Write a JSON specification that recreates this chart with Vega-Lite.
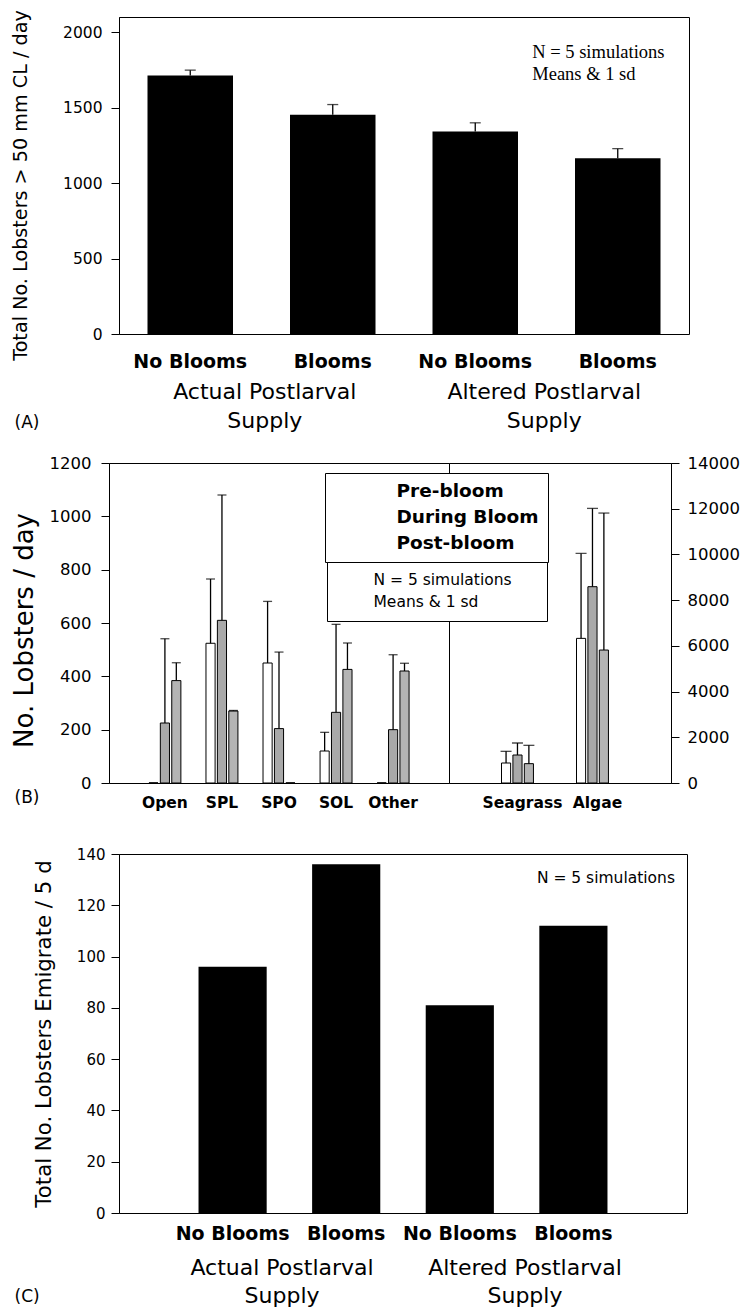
{
  "$schema": "https://vega.github.io/schema/vega-lite/v6.json",
  "background": "white",
  "padding": {"left": 10, "top": 9, "right": 5, "bottom": 5},
  "spacing": 22,
  "config": {
    "font": "DejaVu Sans",
    "view": {"stroke": "black", "strokeWidth": 1},
    "axis": {"domainColor": "black", "tickColor": "black", "labelColor": "black", "titleColor": "black", "grid": false, "labelFont": "DejaVu Sans", "titleFont": "DejaVu Sans", "titleFontWeight": "normal", "domainWidth": 1, "tickWidth": 1, "labelLimit": 400, "titleLimit": 600},
    "legend": {"labelColor": "black"}
  },
  "vconcat": [
    {
      "hconcat": [
        {"width": 10, "height": 10, "view": {"stroke": null}, "data": {"values": [{}]}, "mark": {"type": "point", "opacity": 0}, "encoding": {}},
        {
          "width": 570,
          "height": 317,
          "layer": [
            {
              "data": {"values": [
                {"key": "Actual|No Blooms", "value": 1713, "upper": 1748},
                {"key": "Actual|Blooms", "value": 1452, "upper": 1520},
                {"key": "Altered|No Blooms", "value": 1341, "upper": 1399},
                {"key": "Altered|Blooms", "value": 1165, "upper": 1228}
              ]},
              "layer": [
                {
                  "mark": {"type": "bar", "fill": "black"},
                  "encoding": {
                    "x": {"field": "key", "type": "nominal", "sort": null, "scale": {"paddingInner": 0.4, "paddingOuter": 0.2},
                      "axis": {"title": null, "labelExpr": "split(datum.label, '|')[1]", "labelAngle": 0, "labelFontWeight": "bold", "labelFontSize": 19, "labelPadding": 18, "ticks": false, "domain": false}},
                    "y": {"field": "value", "type": "quantitative", "scale": {"domain": [0, 2100], "nice": false},
                      "axis": {"title": "Total No. Lobsters > 50 mm CL / day", "titleFontSize": 19.2, "titleX": -98.5, "titleY": 168, "titleBaseline": "middle", "values": [0, 500, 1000, 1500, 2000], "format": "d", "tickSize": 8, "labelPadding": 9, "labelFontSize": 15.5}}
                  }
                },
                {
                  "mark": {"type": "rule", "color": "black", "strokeWidth": 1.3},
                  "encoding": {
                    "x": {"field": "key", "type": "nominal", "sort": null},
                    "y": {"field": "value", "type": "quantitative"},
                    "y2": {"field": "upper"}
                  }
                },
                {
                  "mark": {"type": "tick", "color": "black", "thickness": 1.3, "size": 11},
                  "encoding": {
                    "x": {"field": "key", "type": "nominal", "sort": null},
                    "y": {"field": "upper", "type": "quantitative"}
                  }
                },
                {
                  "data": {"values": [{"note": "N = 5 simulations\nMeans & 1 sd"}]},
                  "mark": {"type": "text", "font": "Liberation Serif", "fontSize": 18.5, "align": "left", "baseline": "middle", "lineBreak": "\n", "lineHeight": 22, "dx": 57, "color": "black"},
                  "encoding": {
                    "text": {"field": "note"},
                    "x": {"datum": "Altered|No Blooms", "type": "nominal"},
                    "y": {"datum": 1868, "type": "quantitative"}
                  }
                }
              ]
            },
            {
              "data": {"values": [{"supply": "Actual Postlarval|Supply"}, {"supply": "Altered Postlarval|Supply"}]},
              "mark": {"type": "text", "text": " "},
              "encoding": {
                "x": {"field": "supply", "type": "nominal", "sort": null, "scale": {"padding": 0.52},
                  "axis": {"orient": "bottom", "offset": 47, "domain": false, "ticks": false, "labelAngle": 0, "labelExpr": "split(datum.label, '|')", "labelFontSize": 22, "labelLineHeight": 29, "labelPadding": 0, "labelBaseline": "top", "title": "(A)", "titleX": -105, "titleY": 41, "titleAlign": "left", "titleBaseline": "middle", "titleFontSize": 17}}
              }
            }
          ],
          "resolve": {"scale": {"x": "independent"}, "axis": {"x": "independent"}}
        }
      ],
      "spacing": 0,
      "bounds": "flush"
    },
    {
      "spacing": 35,
      "vconcat": [
        {
          "hconcat": [
            {
              "width": 340,
              "height": 320,
              "data": {"values": [
                {"hab": "Open", "period": "Pre-bloom", "value": 0, "upper": 0},
                {"hab": "Open", "period": "During Bloom", "value": 225, "upper": 541},
                {"hab": "Open", "period": "Post-bloom", "value": 384, "upper": 451},
                {"hab": "SPL", "period": "Pre-bloom", "value": 524, "upper": 765},
                {"hab": "SPL", "period": "During Bloom", "value": 610, "upper": 1080},
                {"hab": "SPL", "period": "Post-bloom", "value": 270, "upper": 272},
                {"hab": "SPO", "period": "Pre-bloom", "value": 450, "upper": 681},
                {"hab": "SPO", "period": "During Bloom", "value": 204, "upper": 491},
                {"hab": "SPO", "period": "Post-bloom", "value": 0, "upper": 0},
                {"hab": "SOL", "period": "Pre-bloom", "value": 120, "upper": 190},
                {"hab": "SOL", "period": "During Bloom", "value": 265, "upper": 595},
                {"hab": "SOL", "period": "Post-bloom", "value": 426, "upper": 525},
                {"hab": "Other", "period": "Pre-bloom", "value": 0, "upper": 0},
                {"hab": "Other", "period": "During Bloom", "value": 200, "upper": 481},
                {"hab": "Other", "period": "Post-bloom", "value": 420, "upper": 449}
              ]},
              "layer": [
                {
                  "mark": {"type": "bar", "stroke": "black", "strokeWidth": 1},
                  "encoding": {
                    "x": {"field": "hab", "type": "nominal", "sort": ["Open", "SPL", "SPO", "SOL", "Other"], "scale": {"paddingInner": 0.44, "paddingOuter": 0.7},
                      "axis": {"title": "(B)", "titleX": -95, "titleY": 14, "titleAlign": "left", "titleBaseline": "middle", "titleFontSize": 17, "labelAngle": 0, "labelFontWeight": "bold", "labelFontSize": 15.5, "labelPadding": 12, "ticks": false, "domain": false}},
                    "xOffset": {"field": "period", "type": "nominal", "sort": ["Pre-bloom", "During Bloom", "Post-bloom"], "scale": {"paddingInner": 0.2, "paddingOuter": 0}},
                    "y": {"field": "value", "type": "quantitative", "scale": {"domain": [0, 1200], "nice": false},
                      "axis": {"title": "No. Lobsters / day", "titleFontSize": 26, "titleX": -84.5, "titleY": 167, "titleBaseline": "middle", "values": [0, 200, 400, 600, 800, 1000, 1200], "format": "d", "tickSize": 8, "labelPadding": 10, "labelFontSize": 16.5}},
                    "color": {"field": "period", "type": "nominal", "sort": ["Pre-bloom", "During Bloom", "Post-bloom"], "scale": {"range": ["white", "#a9a9a9", "#b4b4b4"]}, "legend": null}
                  }
                },
                {
                  "mark": {"type": "rule", "color": "black", "strokeWidth": 1.3},
                  "encoding": {
                    "x": {"field": "hab", "type": "nominal", "sort": ["Open", "SPL", "SPO", "SOL", "Other"]},
                    "xOffset": {"field": "period", "type": "nominal", "sort": ["Pre-bloom", "During Bloom", "Post-bloom"]},
                    "y": {"field": "value", "type": "quantitative"},
                    "y2": {"field": "upper"}
                  }
                },
                {
                  "mark": {"type": "tick", "color": "black", "thickness": 1.3, "size": 9},
                  "encoding": {
                    "x": {"field": "hab", "type": "nominal", "sort": ["Open", "SPL", "SPO", "SOL", "Other"]},
                    "xOffset": {"field": "period", "type": "nominal", "sort": ["Pre-bloom", "During Bloom", "Post-bloom"]},
                    "y": {"field": "upper", "type": "quantitative"}
                  }
                }
              ]
            },
            {
              "width": 222,
              "height": 320,
              "data": {"values": [
                {"hab": "Seagrass", "period": "Pre-bloom", "value": 875, "upper": 1385},
                {"hab": "Seagrass", "period": "During Bloom", "value": 1225, "upper": 1750},
                {"hab": "Seagrass", "period": "Post-bloom", "value": 846, "upper": 1648},
                {"hab": "Algae", "period": "Pre-bloom", "value": 6328, "upper": 10046},
                {"hab": "Algae", "period": "During Bloom", "value": 8588, "upper": 12014},
                {"hab": "Algae", "period": "Post-bloom", "value": 5817, "upper": 11810}
              ]},
              "layer": [
                {
                  "mark": {"type": "bar", "stroke": "black", "strokeWidth": 1},
                  "encoding": {
                    "x": {"field": "hab", "type": "nominal", "sort": ["Seagrass", "Algae"], "scale": {"paddingInner": 0.44, "paddingOuter": 0.7},
                      "axis": {"title": null, "labelAngle": 0, "labelFontWeight": "bold", "labelFontSize": 15.5, "labelPadding": 12, "ticks": false, "domain": false}},
                    "xOffset": {"field": "period", "type": "nominal", "sort": ["Pre-bloom", "During Bloom", "Post-bloom"], "scale": {"paddingInner": 0.2, "paddingOuter": 0}},
                    "y": {"field": "value", "type": "quantitative", "scale": {"domain": [0, 14000], "nice": false},
                      "axis": {"title": null, "orient": "right", "values": [0, 2000, 4000, 6000, 8000, 10000, 12000, 14000], "format": "d", "tickSize": 8, "labelPadding": 8, "labelFontSize": 16.5}},
                    "color": {"field": "period", "type": "nominal", "sort": ["Pre-bloom", "During Bloom", "Post-bloom"], "scale": {"range": ["white", "#a9a9a9", "#b4b4b4"]}, "legend": null}
                  }
                },
                {
                  "mark": {"type": "rule", "color": "black", "strokeWidth": 1.3},
                  "encoding": {
                    "x": {"field": "hab", "type": "nominal", "sort": ["Seagrass", "Algae"]},
                    "xOffset": {"field": "period", "type": "nominal", "sort": ["Pre-bloom", "During Bloom", "Post-bloom"]},
                    "y": {"field": "value", "type": "quantitative"},
                    "y2": {"field": "upper"}
                  }
                },
                {
                  "mark": {"type": "tick", "color": "black", "thickness": 1.3, "size": 11},
                  "encoding": {
                    "x": {"field": "hab", "type": "nominal", "sort": ["Seagrass", "Algae"]},
                    "xOffset": {"field": "period", "type": "nominal", "sort": ["Pre-bloom", "During Bloom", "Post-bloom"]},
                    "y": {"field": "upper", "type": "quantitative"}
                  }
                },
                {
                  "data": {"values": [{"phase": "Pre-bloom"}, {"phase": "During Bloom"}, {"phase": "Post-bloom"}]},
                  "mark": {"type": "point", "opacity": 0, "filled": true, "fill": "white", "stroke": "black", "strokeWidth": 1},
                  "encoding": {
                    "shape": {"field": "phase", "type": "nominal", "sort": ["Pre-bloom", "During Bloom", "Post-bloom"],
                      "scale": {"domain": ["Pre-bloom", "During Bloom", "Post-bloom"], "range": [
                        "M-1,-1H6.54V1H-1Z",
                        "M-1,-1H6.54V1H-1Z M-1,-0.73L-0.73,-1 M-1,-0.19L-0.19,-1 M-1,0.35L0.35,-1 M-1,0.89L0.89,-1 M-0.57,1L1.43,-1 M-0.03,1L1.97,-1 M0.51,1L2.51,-1 M1.05,1L3.05,-1 M1.59,1L3.59,-1 M2.13,1L4.13,-1 M2.67,1L4.67,-1 M3.21,1L5.21,-1 M3.75,1L5.75,-1 M4.29,1L6.29,-1 M4.83,1L6.54,-0.71 M5.37,1L6.54,-0.17 M5.91,1L6.54,0.37 M6.45,1L6.54,0.91",
                        "M-1,-1H6.54V1H-1Z M6.54,-0.73L6.27,-1 M6.54,-0.19L5.73,-1 M6.54,0.35L5.19,-1 M6.54,0.89L4.65,-1 M6.11,1L4.11,-1 M5.57,1L3.57,-1 M5.03,1L3.03,-1 M4.49,1L2.49,-1 M3.95,1L1.95,-1 M3.41,1L1.41,-1 M2.87,1L0.87,-1 M2.33,1L0.33,-1 M1.79,1L-0.21,-1 M1.25,1L-0.75,-1 M0.71,1L-1,-0.71 M0.17,1L-1,-0.17 M-0.37,1L-1,0.37 M-0.91,1L-1,0.91"
                      ]},
                      "legend": {
                        "orient": "none", "legendX": 216, "legendY": 456, "title": null,
                        "fillColor": "white", "strokeColor": "black", "padding": 9,
                        "labelFontSize": 18.5, "labelFontWeight": "bold", "labelFont": "DejaVu Sans", "labelColor": "black",
                        "symbolSize": 169, "symbolOpacity": 1, "symbolFillColor": "white", "symbolStrokeColor": "black", "symbolStrokeWidth": 1,
                        "labelOffset": 44, "rowPadding": 7,
                        "encode": {"symbols": {
                          "opacity": {"value": 1},
                          "fillOpacity": {"value": 1},
                          "strokeOpacity": {"value": 1},
                          "size": {"value": 169},
                          "fill": {"value": "white"},
                          "stroke": {"value": "black"},
                          "strokeWidth": {"value": 1}
                        }}
                      }}
                  }
                },
                {
                  "data": {"values": [{"note": "N = 5 simulations"}, {"note": "Means & 1 sd"}]},
                  "mark": {"type": "point", "opacity": 0, "filled": true},
                  "encoding": {
                    "fill": {"field": "note", "type": "nominal", "sort": ["N = 5 simulations", "Means & 1 sd"], "scale": {"range": ["white", "white"]},
                      "legend": {"orient": "none", "legendX": 218, "legendY": 545, "title": null, "fillColor": "white", "strokeColor": "black", "padding": 10, "labelFontSize": 15.5, "labelFont": "DejaVu Sans", "labelColor": "black", "symbolOpacity": 0, "symbolType": "M0,0L38.4,0", "symbolSize": 100, "labelOffset": 21, "rowPadding": 5.5}}
                  }
                }
              ]
            }
          ],
          "spacing": 0,
          "bounds": "flush"
        },
        {
          "hconcat": [
            {"width": 10, "height": 10, "view": {"stroke": null}, "data": {"values": [{}]}, "mark": {"type": "point", "opacity": 0}, "encoding": {}},
            {
              "width": 568,
              "height": 359,
              "layer": [
                {
                  "data": {"values": [
                    {"key": "Actual|No Blooms", "value": 96},
                    {"key": "Actual|Blooms", "value": 136},
                    {"key": "Altered|No Blooms", "value": 81},
                    {"key": "Altered|Blooms", "value": 112}
                  ]},
                  "layer": [
                    {
                      "mark": {"type": "bar", "fill": "black"},
                      "encoding": {
                        "x": {"field": "key", "type": "nominal", "sort": null, "scale": {"paddingInner": 0.4, "paddingOuter": 0.7},
                          "axis": {"title": null, "labelExpr": "split(datum.label, '|')[1]", "labelAngle": 0, "labelFontWeight": "bold", "labelFontSize": 19, "labelPadding": 11, "ticks": false, "domain": false}},
                        "y": {"field": "value", "type": "quantitative", "scale": {"domain": [0, 140], "nice": false},
                          "axis": {"title": "Total No. Lobsters Emigrate / 5 d", "titleFontSize": 21.3, "titleX": -74.5, "titleBaseline": "middle", "values": [0, 20, 40, 60, 80, 100, 120, 140], "format": "d", "tickSize": 8, "labelPadding": 6, "labelFontSize": 15}}
                      }
                    },
                    {
                      "data": {"values": [{"note": "N = 5 simulations"}]},
                      "mark": {"type": "text", "fontSize": 15.5, "align": "right", "baseline": "middle", "dx": -12, "color": "black"},
                      "encoding": {
                        "text": {"field": "note"},
                        "x": {"value": "width"},
                        "y": {"datum": 130.6, "type": "quantitative"}
                      }
                    }
                  ]
                },
                {
                  "data": {"values": [{"supply": "Actual Postlarval|Supply"}, {"supply": "Altered Postlarval|Supply"}]},
                  "mark": {"type": "text", "text": " "},
                  "encoding": {
                    "x": {"field": "supply", "type": "nominal", "sort": null, "scale": {"padding": 0.669},
                      "axis": {"orient": "bottom", "offset": 44, "domain": false, "ticks": false, "labelAngle": 0, "labelExpr": "split(datum.label, '|')", "labelFontSize": 22, "labelLineHeight": 28, "labelPadding": 0, "labelBaseline": "top", "title": "(C)", "titleX": -105, "titleY": 39, "titleAlign": "left", "titleBaseline": "middle", "titleFontSize": 17}}
                  }
                }
              ],
              "resolve": {"scale": {"x": "independent"}, "axis": {"x": "independent"}}
            }
          ],
          "spacing": 0,
          "bounds": "flush"
        }
      ]
    }
  ]
}
